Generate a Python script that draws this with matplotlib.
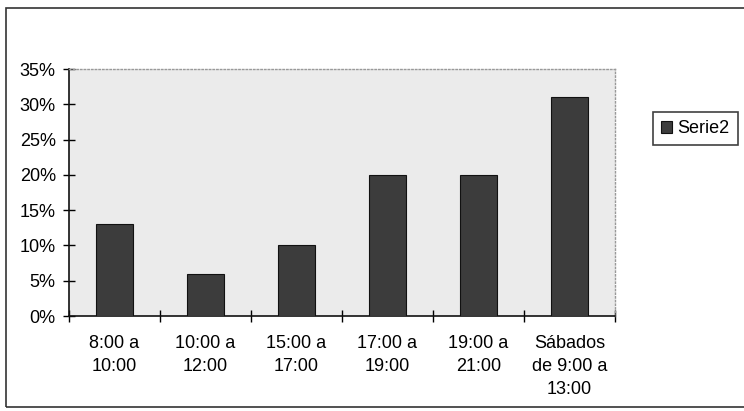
import matplotlib.pyplot as plt
from matplotlib.patches import Rectangle
from matplotlib.ticker import FuncFormatter

categories = ["8:00 a\n10:00", "10:00 a\n12:00", "15:00 a\n17:00",
              "17:00 a\n19:00", "19:00 a\n21:00", "Sábados\nde 9:00 a\n13:00"]
values = [13, 6, 10, 20, 20, 31]
series_name = "Serie2"

plt.rcParams["font.family"] = ["Liberation Sans", "DejaVu Sans"]

fig = plt.figure(figsize=(7.44, 4.11), dpi=100)
ax = fig.add_axes([0.0927, 0.2311, 0.7339, 0.601])
ax.set_facecolor("#ebebeb")

x = range(len(values))
ax.bar(x, values, width=0.4, color="#3c3c3c", edgecolor="#111111",
       linewidth=0.8, label=series_name, zorder=3)

ax.set_xlim(-0.5, len(values) - 0.5)
ax.set_ylim(0, 35)
ax.set_yticks(range(0, 36, 5))
ax.yaxis.set_major_formatter(FuncFormatter(lambda v, _: f"{v:.0f}%"))

# category labels centred, ticks at category boundaries
ax.set_xticks([i - 0.5 for i in range(len(values) + 1)])
ax.set_xticklabels([])
ax.set_xticks(list(x), minor=True)
ax.set_xticklabels(categories, minor=True, fontsize=13, linespacing=1.45)
ax.tick_params(axis="x", which="minor", length=0, pad=14)
ax.tick_params(axis="x", which="major", direction="inout", length=9, width=1)
ax.tick_params(axis="y", direction="inout", length=9, width=1, labelsize=13, pad=5)

for side in ("top", "right"):
    ax.spines[side].set_color("#999999")
    ax.spines[side].set_linestyle(":")
    ax.spines[side].set_linewidth(1)
for side in ("left", "bottom"):
    ax.spines[side].set_color("#111111")
    ax.spines[side].set_linewidth(1.2)

leg = fig.legend(loc="upper left", bbox_to_anchor=(0.878, 0.727), fontsize=13,
                 frameon=True, fancybox=False, handlelength=0.6, handleheight=0.6,
                 handletextpad=0.3, borderpad=0.45, borderaxespad=0)
leg.get_frame().set_edgecolor("#111111")
leg.get_frame().set_linewidth(1.2)

# outer chart frame
fig.patches.append(Rectangle((0.008, 0.01), 1.2, 0.97, transform=fig.transFigure,
                             fill=False, edgecolor="#333333", linewidth=1.2))

fig.savefig("out.png", dpi=100)
